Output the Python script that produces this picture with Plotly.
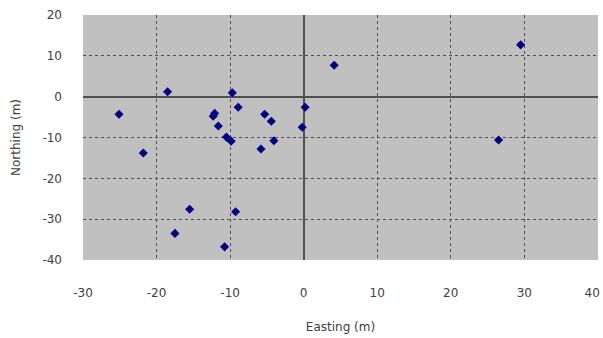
import plotly.graph_objects as go

easting = [-25.1, -21.8, -18.5, -12.1, -12.3, -11.6, -10.5, -9.85, -9.7, -8.9,
           -5.8, -5.3, -4.4, -4.05, 0.2, -0.2, 4.15, 29.5, 26.5,
           -15.5, -17.5, -9.25, -10.75]
northing = [-4.3, -13.8, 1.2, -4.1, -4.8, -7.2, -9.9, -10.9, 0.96, -2.6,
            -12.8, -4.3, -6.0, -10.8, -2.6, -7.5, 7.7, 12.7, -10.6,
            -27.6, -33.5, -28.2, -36.8]
x_ticks = [-30, -20, -10, 0, 10, 20, 30, 40]
x_ticklabels = ["-30", "-20", "-10", "0", "10", "20", "30", "40&nbsp;&nbsp;&nbsp;"]
y_ticks = [-40, -30, -20, -10, 0, 10, 20]
y_ticklabels = ["-40", "-30", "-20", "-10", "0", "10", "20"]

fig = go.Figure()
fig.add_trace(go.Scatter(
    x=easting, y=northing, mode="markers",
    marker=dict(symbol="diamond", size=7, color="#000080"),
    showlegend=False, cliponaxis=False,
))

font = dict(family="DejaVu Sans, Liberation Sans, sans-serif", size=12, color="#404040")
fig.update_layout(
    width=603, height=338,
    margin=dict(l=83, r=5, t=15, b=78),
    paper_bgcolor="white", plot_bgcolor="#C0C0C0",
    font=font,
    xaxis=dict(range=[-30, 40.02], tickvals=x_ticks, ticktext=x_ticklabels,
               showgrid=True, automargin=False, ticklabeloverflow="allow",
               gridcolor="#505050", griddash="dot", gridwidth=1,
               zeroline=True, zerolinecolor="#505050", zerolinewidth=2,
               showline=False, ticks="", ticklabelstandoff=24,
               title=dict(text="Easting (m)", standoff=23, font=font)),
    yaxis=dict(range=[-40.02, 20.02], tickvals=y_ticks, ticktext=y_ticklabels,
               showgrid=True, automargin=False, ticklabeloverflow="allow",
               gridcolor="#505050", griddash="dot", gridwidth=1,
               zeroline=True, zerolinecolor="#505050", zerolinewidth=2,
               showline=False, ticks="", ticklabelstandoff=20,
               title=dict(text="Northing (m)", standoff=19, font=font)),
)
fig.write_html("out.html", config={"displayModeBar": False},
               post_script="document.body.style.margin='0';document.body.style.overflow='hidden';")
